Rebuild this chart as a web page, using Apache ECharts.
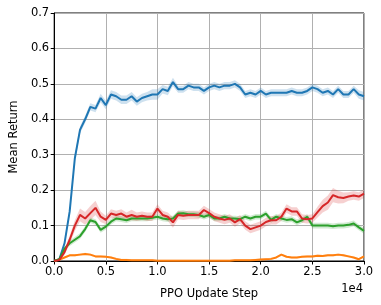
<!DOCTYPE html>
<html><head><meta charset="utf-8">
<script src="https://cdn.jsdelivr.net/npm/echarts@6/dist/echarts.min.js"></script>
<style>html,body{margin:0;padding:0;background:#fff}#c{width:381px;height:305px}</style>
</head><body><div id="c"></div>
<script>
// x positions (PPO update steps), every 500
const steps = Array.from({length: 61}, (_, i) => i * 500);
const xTicks = [0, 5000, 10000, 15000, 20000, 25000, 30000];
const yTicks = [0, 0.1, 0.2, 0.3, 0.4, 0.5, 0.6, 0.7];

const blue = [0,0.005,0.05,0.14,0.29,0.37,0.4,0.435,0.43,0.46,0.44,0.47,0.465,0.455,0.455,0.465,0.45,0.46,0.465,0.47,0.47,0.485,0.48,0.505,0.485,0.485,0.495,0.49,0.49,0.48,0.49,0.495,0.49,0.495,0.495,0.5,0.49,0.47,0.475,0.47,0.48,0.47,0.475,0.475,0.475,0.475,0.48,0.475,0.475,0.48,0.49,0.485,0.475,0.48,0.47,0.485,0.47,0.47,0.485,0.47,0.465];
const blueSpread = [0,0.003,0.006,0.008,0.01,0.01,0.01,0.01,0.01,0.012,0.012,0.012,0.012,0.012,0.012,0.012,0.012,0.012,0.012,0.015,0.015,0.012,0.012,0.012,0.01,0.01,0.01,0.01,0.01,0.01,0.01,0.01,0.01,0.01,0.01,0.01,0.01,0.01,0.01,0.01,0.01,0.01,0.01,0.01,0.01,0.01,0.01,0.01,0.01,0.01,0.01,0.01,0.01,0.01,0.01,0.01,0.01,0.01,0.01,0.012,0.012];

const red = [0,0.003,0.025,0.06,0.1,0.13,0.12,0.135,0.15,0.125,0.116,0.134,0.13,0.134,0.125,0.13,0.125,0.128,0.125,0.125,0.148,0.13,0.125,0.109,0.13,0.128,0.13,0.13,0.13,0.144,0.135,0.125,0.12,0.116,0.12,0.109,0.118,0.1,0.09,0.095,0.1,0.11,0.115,0.115,0.125,0.148,0.14,0.14,0.12,0.118,0.12,0.138,0.155,0.165,0.186,0.18,0.178,0.182,0.185,0.182,0.19];
const redSpread = [0,0.003,0.008,0.012,0.015,0.018,0.018,0.02,0.02,0.015,0.012,0.012,0.012,0.012,0.012,0.015,0.012,0.012,0.012,0.012,0.012,0.012,0.012,0.015,0.012,0.012,0.012,0.012,0.012,0.012,0.012,0.012,0.012,0.012,0.012,0.012,0.012,0.012,0.012,0.012,0.012,0.012,0.012,0.012,0.012,0.012,0.012,0.012,0.012,0.012,0.012,0.015,0.018,0.02,0.02,0.018,0.015,0.012,0.012,0.012,0.012];

const green = [0,0.005,0.035,0.05,0.06,0.07,0.09,0.115,0.11,0.088,0.097,0.111,0.12,0.118,0.115,0.12,0.12,0.12,0.12,0.122,0.125,0.12,0.118,0.12,0.134,0.135,0.132,0.132,0.13,0.125,0.13,0.12,0.12,0.125,0.12,0.12,0.118,0.125,0.12,0.125,0.125,0.134,0.116,0.125,0.12,0.116,0.118,0.109,0.115,0.125,0.1,0.1,0.1,0.1,0.098,0.1,0.1,0.102,0.106,0.095,0.085];
const greenSpread = [0,0.003,0.006,0.008,0.008,0.008,0.008,0.008,0.008,0.008,0.008,0.008,0.008,0.008,0.008,0.008,0.008,0.008,0.008,0.008,0.008,0.008,0.008,0.008,0.008,0.008,0.008,0.008,0.008,0.008,0.008,0.008,0.008,0.008,0.008,0.008,0.008,0.008,0.008,0.008,0.008,0.008,0.008,0.008,0.008,0.008,0.008,0.008,0.008,0.008,0.008,0.008,0.008,0.008,0.008,0.008,0.008,0.008,0.008,0.008,0.008];

const orange = [0,0.004,0.01,0.016,0.016,0.018,0.02,0.018,0.013,0.013,0.012,0.01,0.006,0.003,0.003,0.002,0.002,0.002,0.002,0.002,0.001,0.001,0.001,0.001,0.001,0.001,0.001,0.001,0.001,0.001,0.001,0.001,0.001,0.001,0.001,0.002,0.002,0.002,0.002,0.003,0.004,0.005,0.006,0.01,0.018,0.012,0.01,0.01,0.012,0.013,0.013,0.015,0.014,0.016,0.016,0.018,0.016,0.013,0.01,0.005,0.013];
const orangeSpread = 0.003;

const colors = {blue:'#1f77b4', orange:'#ff7f0e', green:'#2ca02c', red:'#d62728'};

function bandSeries(vals, spread, color) {
  const sp = i => Array.isArray(spread) ? spread[i] : spread;
  const upper = vals.map((v, i) => [steps[i], v + sp(i)]);
  const lower = vals.map((v, i) => [steps[i], Math.max(0, v - sp(i))]);
  return {
    type:'custom', silent:true, z:1, data:[[0, 0]],
    clip:true,
    renderItem: function (params, api) {
      const pts = upper.map(p => api.coord(p)).concat(lower.slice().reverse().map(p => api.coord(p)));
      return {type:'polygon', shape:{points:pts}, style:{fill:color, opacity:0.22}};
    }
  };
}
function lineSeries(vals, color) {
  return {type:'line', data: vals.map((v, i) => [steps[i], v]), symbol:'none',
    lineStyle:{color:color, width:2}, z:3};
}

const font = 'DejaVu Sans';
const chart = echarts.init(document.getElementById('c'), null, {renderer:'canvas'});
chart.setOption({
  animation:false,
  grid:{left:49, right:17, top:13, bottom:42, show:true, borderColor:'#000', borderWidth:1, backgroundColor:'transparent'},
  xAxis:{type:'value', min:0, max:30000, interval:5000,
    name:'PPO Update Step', nameLocation:'middle', nameGap:27,
    nameTextStyle:{fontFamily:font, fontSize:11.5, color:'#000'},
    axisLine:{show:true, lineStyle:{color:'#000', width:1}, onZero:false},
    axisTick:{show:true, length:3.5, lineStyle:{color:'#000'}},
    axisLabel:{fontFamily:font, fontSize:11.5, color:'#000', margin:5,
      formatter: v => xTicks.includes(v) ? (v/10000).toFixed(1) : ''},
    splitLine:{show:true, lineStyle:{color:'#b0b0b0', width:1}}},
  yAxis:{type:'value', min:0, max:0.7, interval:0.1,
    name:'Mean Return', nameLocation:'middle', nameGap:33,
    nameTextStyle:{fontFamily:font, fontSize:11.5, color:'#000'},
    axisLine:{show:true, lineStyle:{color:'#000', width:1}},
    axisTick:{show:true, length:3.5, lineStyle:{color:'#000'}},
    axisLabel:{fontFamily:font, fontSize:11.5, color:'#000', margin:5,
      formatter: v => yTicks.some(t => Math.abs(t - v) < 1e-9) ? v.toFixed(1) : ''},
    splitLine:{show:true, lineStyle:{color:'#b0b0b0', width:1}}},
  graphic:[{type:'text', right:18, top:283, style:{text:'1e4', font:'11.5px "DejaVu Sans"', fill:'#000'}}],
  series:[
    bandSeries(blue, blueSpread, colors.blue),
    bandSeries(orange, orangeSpread, colors.orange),
    bandSeries(green, greenSpread, colors.green),
    bandSeries(red, redSpread, colors.red),
    lineSeries(blue, colors.blue),
    lineSeries(orange, colors.orange),
    lineSeries(green, colors.green),
    lineSeries(red, colors.red)
  ]
});
</script></body></html>
